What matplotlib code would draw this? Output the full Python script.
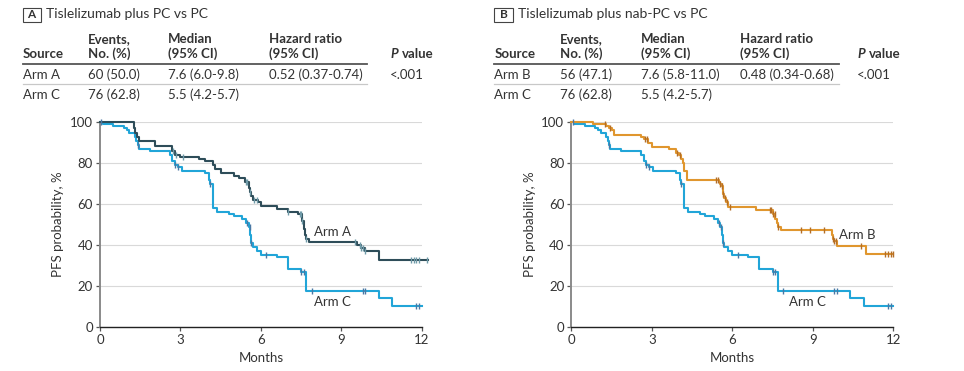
import numpy as np
import matplotlib
matplotlib.use("Agg")
import matplotlib.pyplot as plt
from matplotlib.patches import Rectangle

plt.rcParams['font.family'] = ['Lato', 'DejaVu Sans']

# ---------------- data ----------------
x_ticks = [0, 3, 6, 9, 12]
y_ticks = [0, 20, 40, 60, 80, 100]

# Arm A (step points: time, PFS %)
armA_t = [0, 1.25, 1.32, 1.38, 1.45, 2.05, 2.7, 2.8, 3.0, 3.7, 3.9, 4.2, 4.3, 4.5, 5.0, 5.2, 5.4,
          5.55, 5.6, 5.65, 5.7, 5.9, 6.0, 6.6, 7.0, 7.4, 7.55, 7.6, 7.65, 7.7, 7.8, 9.6, 9.75, 9.9, 10.4, 12.25]
armA_s = [100, 97, 95, 93, 91, 88.4, 86, 84, 83, 82, 81, 79, 77, 75, 74, 73, 71,
          68, 66, 64, 62, 61, 59, 57.5, 56, 55, 52, 48, 45, 43, 41.5, 40, 38.5, 37, 32.5, 32.5]
armA_cens = [2.72, 2.85, 3.1, 5.45, 5.5, 5.6, 5.75, 5.85, 7.0, 7.45, 7.5, 7.55, 7.7,
             9.5, 9.7, 9.75, 9.8, 9.9, 11.6, 11.7, 11.8, 11.9, 12.2]

# Arm C
armC_t = [0, 0.1, 0.5, 0.9, 1.0, 1.1, 1.3, 1.35, 1.4, 1.45, 1.85, 2.6, 2.7, 2.8, 2.9, 3.05, 3.9,
          4.05, 4.1, 4.2, 4.35, 4.8, 5.0, 5.3, 5.45, 5.55, 5.6, 5.65, 5.7, 5.85, 6.0, 6.6, 7.0, 7.5,
          7.7, 10.4, 10.9, 12.0]
armC_s = [100, 99, 98, 97, 96, 95, 93, 91, 89, 87, 86, 84, 81, 79, 78, 76, 75,
          72, 70, 58, 56, 55, 54, 53, 51, 49, 45, 41, 39, 37, 35, 34, 28.5, 27,
          17.5, 14, 10.5, 10.5]
armC_cens = [0.05, 1.4, 2.8, 2.9, 4.1, 5.5, 5.58, 5.65, 6.2, 7.5, 7.6, 7.9, 9.8, 9.9, 11.8, 11.9]

# Arm B
armB_t = [0, 0.8, 1.3, 1.4, 1.5, 1.6, 2.6, 2.7, 2.85, 3.0, 3.65, 3.9, 4.0, 4.1, 4.15, 4.2, 4.3,
          5.5, 5.55, 5.6, 5.65, 5.7, 5.75, 5.85, 6.9, 7.5, 7.6, 7.65, 7.7, 7.8, 9.7, 9.75, 9.8,
          9.9, 11.0, 12.0]
armB_s = [100, 99, 98, 97, 96, 94, 93, 92, 90, 88, 87, 85, 84, 82, 80, 76, 72,
          71, 70, 69, 65, 63, 61, 58.5, 57, 55, 53, 51, 49, 47.5, 45, 43, 42,
          39.5, 35.5, 35.5]
armB_cens = [1.25, 1.45, 2.75, 2.82, 3.95, 4.05, 5.4, 5.48, 5.55, 5.6, 5.65, 5.72, 5.8, 5.9,
             7.4, 7.45, 7.5, 7.58, 7.7, 8.55, 8.9, 9.4, 9.75, 9.8, 9.85, 10.8, 11.7, 11.8, 11.9, 12.0]

panelA_title = "Tislelizumab plus PC vs PC"
panelB_title = "Tislelizumab plus nab-PC vs PC"
table_header1 = ["", "Events,", "Median", "Hazard ratio", ""]
table_header2 = ["Source", "No. (%)", "(95% CI)", "(95% CI)", "value"]
tableA_rows = [["Arm A", "60 (50.0)", "7.6 (6.0-9.8)", "0.52 (0.37-0.74)", "<.001"],
               ["Arm C", "76 (62.8)", "5.5 (4.2-5.7)", "", ""]]
tableB_rows = [["Arm B", "56 (47.1)", "7.6 (5.8-11.0)", "0.48 (0.34-0.68)", "<.001"],
               ["Arm C", "76 (62.8)", "5.5 (4.2-5.7)", "", ""]]

# ---------------- styles ----------------
W, H = 964, 371
colA, colA_m = '#2e4d59', '#6f9aa8'
colC, colC_m = '#21a5d8', '#4a78a4'
colB, colB_m = '#e0962e', '#b46e26'
txt = '#333333'

fig = plt.figure(figsize=(W / 100, H / 100), dpi=100)


def fx(px):
    return px / W


def fy(py):
    return 1 - py / H


def surv_at(t, ts, ss):
    idx = np.searchsorted(ts, t, side='right') - 1
    return np.array(ss)[np.clip(idx, 0, len(ss) - 1)]


def draw_km(ax, ts, ss, cens, col, mcol):
    ax.step(ts, ss, where='post', color=col, lw=1.5, clip_on=False, zorder=3)
    cy = surv_at(np.array(cens), np.array(ts), ss)
    ax.plot(cens, cy, ls='none', marker='|', ms=5, mew=1.0, color=mcol, clip_on=False, zorder=4)


def setup_ax(ax):
    ax.set_xlim(0, 12)
    ax.set_ylim(0, 100)
    ax.set_xticks(x_ticks)
    ax.set_yticks(y_ticks)
    for s in ['top', 'right']:
        ax.spines[s].set_visible(False)
    ax.spines['left'].set_color('#8a8a8a')
    ax.spines['left'].set_linewidth(1.4)
    ax.spines['bottom'].set_color('#222222')
    ax.spines['bottom'].set_linewidth(1.0)
    ax.tick_params(axis='both', length=3, width=0.9, color='#555555', labelsize=9.5,
                   labelcolor=txt, pad=2)
    ax.grid(axis='y', color='#d9d9d9', lw=0.8)
    ax.set_axisbelow(True)
    ax.set_xlabel('Months', fontsize=9.5, color=txt, labelpad=4)
    ax.set_ylabel('PFS probability, %', fontsize=9.5, color=txt, labelpad=4)


def header(x0, letter, title, rows, cols, line_end):
    # letter box
    fig.patches.append(Rectangle((fx(x0), fy(22)), fx(18), 14 / H, transform=fig.transFigure,
                                 fill=False, ec='#444444', lw=0.8))
    fig.text(fx(x0 + 9), fy(14.5), letter, ha='center', va='center', fontsize=8.5,
             fontweight='bold', color=txt)
    fig.text(fx(x0 + 24), fy(14.5), title, ha='left', va='center', fontsize=10, color=txt)
    for i, cx in enumerate(cols):
        if table_header1[i]:
            fig.text(fx(cx), fy(39), table_header1[i], ha='left', va='center', fontsize=9.5,
                     fontweight='bold', color=txt)
        if i == 4:
            fig.text(fx(cx), fy(54), 'P', ha='left', va='center', fontsize=9.5,
                     fontweight='bold', fontstyle='italic', color=txt)
            fig.text(fx(cx + 11.5), fy(54), table_header2[i], ha='left', va='center', fontsize=9.5,
                     fontweight='bold', color=txt)
        else:
            fig.text(fx(cx), fy(54), table_header2[i], ha='left', va='center', fontsize=9.5,
                     fontweight='bold', color=txt)
    fig.add_artist(plt.Line2D([fx(x0), fx(line_end)], [fy(63.5), fy(63.5)],
                              transform=fig.transFigure, color='#555555', lw=1.3))
    fig.add_artist(plt.Line2D([fx(x0), fx(line_end)], [fy(84), fy(84)],
                              transform=fig.transFigure, color='#c8c8c8', lw=0.9))
    for r, yy in zip(rows, [75, 95]):
        for i, cx in enumerate(cols):
            if r[i]:
                fig.text(fx(cx), fy(yy), r[i], ha='left', va='center', fontsize=9.5, color=txt)


header(22.5, 'A', panelA_title, tableA_rows, [22.7, 87.7, 168.3, 269.3, 390], 367)
header(494.5, 'B', panelB_title, tableB_rows, [494.3, 559.7, 640.7, 740.3, 857], 839)

axA = fig.add_axes([fx(100), fy(327), fx(321.7), 204.7 / H])
setup_ax(axA)
draw_km(axA, armC_t, armC_s, armC_cens, colC, colC_m)
draw_km(axA, armA_t, armA_s, armA_cens, colA, colA_m)
axA.text(8.68, 46.4, 'Arm A', ha='center', va='center', fontsize=9.5, color=txt)
axA.text(8.68, 12.2, 'Arm C', ha='center', va='center', fontsize=9.5, color=txt)

axB = fig.add_axes([fx(571.3), fy(327), fx(322), 204.7 / H])
setup_ax(axB)
draw_km(axB, armC_t, armC_s, armC_cens, colC, colC_m)
draw_km(axB, armB_t, armB_s, armB_cens, colB, colB_m)
axB.text(10.67, 44.8, 'Arm B', ha='center', va='center', fontsize=9.5, color=txt)
axB.text(8.81, 12.2, 'Arm C', ha='center', va='center', fontsize=9.5, color=txt)

fig.savefig('out.png', dpi=100, facecolor='white')
